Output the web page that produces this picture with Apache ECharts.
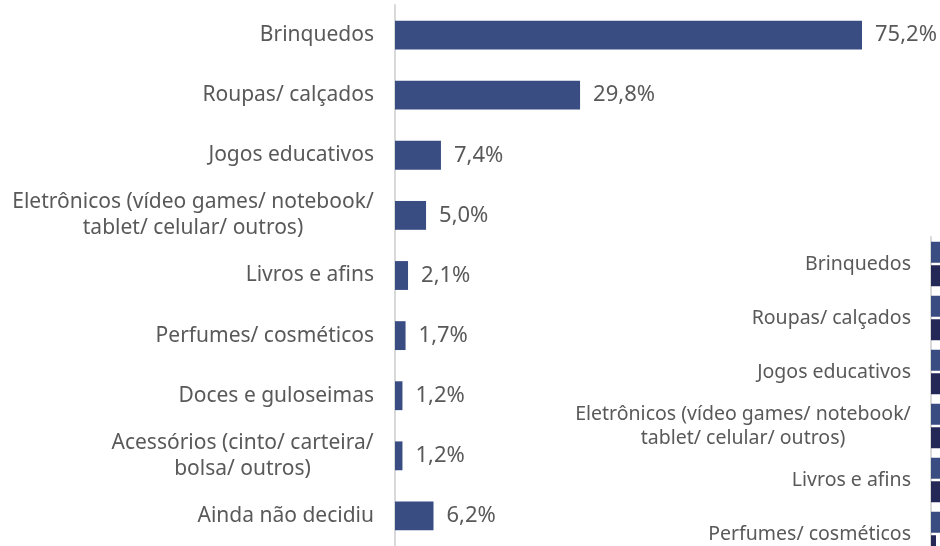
<!DOCTYPE html>
<html><head><meta charset="utf-8">
<script src="https://cdn.jsdelivr.net/npm/echarts@6/dist/echarts.min.js"></script>
<style>
html,body{margin:0;padding:0;background:#fff;overflow:hidden;width:940px;height:546px}
#wrap{position:relative;width:940px;height:546px;overflow:hidden}
#c{position:absolute;left:0;top:0;width:940px;height:546px}
#c2{position:absolute;left:540px;top:225px;width:1400px;height:600px}
</style>
</head><body><div id="wrap"><div id="c"></div><div id="c2"></div></div>
<script>
const categories = ["Brinquedos","Roupas/ calçados","Jogos educativos","Eletrônicos (vídeo games/ notebook/\ntablet/ celular/ outros)","Livros e afins","Perfumes/ cosméticos","Doces e guloseimas","Acessórios (cinto/ carteira/\nbolsa/ outros)","Ainda não decidiu"];
const values = [75.2, 29.8, 7.4, 5.0, 2.1, 1.7, 1.2, 1.2, 6.2];
// Second (partly hidden) chart in the lower right
const values2a = [75.2, 29.8, 7.4, 5.0, 2.1, 1.7, 1.2, 1.2, 6.2];
const values2b = [70.0, 30.0, 8.0, 6.0, 2.0, 0.5, 1.0, 1.0, 7.0];

const FONT = 'Noto Sans';
function measure(text, size){
  const cv = document.createElement('canvas').getContext('2d');
  cv.font = size + 'px "' + FONT + '"';
  return Math.max.apply(null, text.split('\n').map(l => cv.measureText(l).width));
}
function makeFormatter(size){
  return function(v){
    if (v.indexOf('\n') < 0) return v;
    const w = Math.ceil(measure(v, size));
    return v.split('\n').map(l => '{c' + w + '|' + l + '}').join('\n');
  };
}
function makeRich(size, lh){
  const rich = {};
  categories.forEach(v => {
    if (v.indexOf('\n') >= 0) {
      const w = Math.ceil(measure(v, size));
      rich['c' + w] = {width: w, align: 'center', fontSize: size, fontFamily: FONT, color: '#595959', lineHeight: lh};
    }
  });
  return rich;
}

const chart = echarts.init(document.getElementById('c'), null, {renderer: 'canvas'});
chart.setOption({
  animation: false,
  grid: {left: 395, top: 5, right: 0, height: 541, containLabel: false},
  xAxis: {type: 'value', min: 0, max: 87.76, show: false},
  yAxis: {type: 'category', data: categories, inverse: true,
     axisLine: {lineStyle: {color: '#d9d9d9', width: 2}},
     axisTick: {length: 6, lineStyle: {color: '#d9d9d9', width: 2}},
     axisLabel: {interval: 0, color: '#595959', fontSize: 21, fontFamily: FONT, margin: 21, lineHeight: 26,
       formatter: makeFormatter(21), rich: makeRich(21, 26)}},
  series: [
    {type: 'bar', data: values, barCategoryGap: '52%',
     itemStyle: {color: '#394d83'},
     label: {show: true, position: 'right', distance: 13, color: '#595959', fontSize: 22, fontFamily: FONT,
       formatter: p => p.value.toFixed(1).replace('.', ',') + '%'}}
  ]
});

const chart2 = echarts.init(document.getElementById('c2'), null, {renderer: 'canvas'});
chart2.setOption({
  animation: false,
  grid: {left: 391, top: 12, width: 1000, height: 486, containLabel: false},
  xAxis: {type: 'value', min: 0, max: 100, show: false},
  yAxis: {type: 'category', data: categories, inverse: true,
     axisLine: {lineStyle: {color: '#d9d9d9', width: 2}},
     axisTick: {show: false},
     axisLabel: {interval: 0, color: '#595959', fontSize: 19.5, fontFamily: FONT, margin: 20, lineHeight: 24,
       formatter: makeFormatter(19.5), rich: makeRich(19.5, 24)}},
  series: [
    {type: 'bar', data: values2a, barWidth: 21, barGap: '12%', itemStyle: {color: '#394d83'}},
    {type: 'bar', data: values2b, barWidth: 21, barGap: '12%', itemStyle: {color: '#232856'}}
  ]
});
</script></body></html>
